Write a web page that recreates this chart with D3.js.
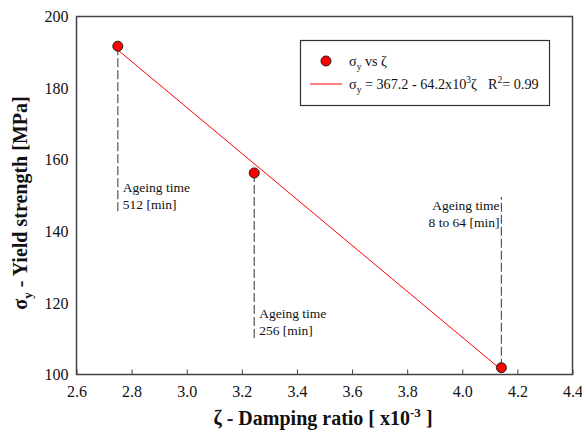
<!DOCTYPE html>
<html>
<head>
<meta charset="utf-8">
<script src="https://cdn.jsdelivr.net/npm/d3@7"></script>
<style>
  body { margin: 0; background: #fff; }
  svg text { font-family: "Liberation Serif", "Times New Roman", Times, serif; fill: #111; }
</style>
</head>
<body>
<div class="chart"></div>
<script>
    // Data
    var zeta = [2.75, 3.245, 4.142];
    var sigma = [191.7, 156.3, 101.9];
    var ageing = ['512 [min]', '256 [min]', '8 to 64 [min]'];
    var fitRange = [2.75, 4.142];
    var fitIntercept = 367.2;
    var fitSlope = -64.2;
    var xTicks = [2.6, 2.8, 3.0, 3.2, 3.4, 3.6, 3.8, 4.0, 4.2, 4.4];
    var yTicks = [100, 120, 140, 160, 180, 200];

    var w = 582, h = 433;
    var mLeft = 76.5, mRight = 572.5, mTop = 16.5, mBottom = 374.5;
    var serif = '"Liberation Serif", "Times New Roman", serif';

    var svg = d3.select('.chart')
        .append('svg')
            .attr('width', w)
            .attr('height', h);

    var x = d3.scaleLinear().domain([2.6, 4.4]).range([mLeft, mRight]);
    var y = d3.scaleLinear().domain([100, 200]).range([mBottom, mTop]);

    // Frame
    svg.append('rect')
        .attr('x', mLeft).attr('y', mTop)
        .attr('width', mRight - mLeft).attr('height', mBottom - mTop)
        .attr('fill', 'none').attr('stroke', '#444').attr('stroke-width', 1.5);

    // X axis (ticks inside)
    var xAxis = svg.append('g')
        .attr('transform', 'translate(0,' + mBottom + ')')
        .call(d3.axisBottom(x).tickValues(xTicks).tickSizeInner(-5).tickSizeOuter(0)
            .tickPadding(11).tickFormat(d3.format('.1f')))
        .attr('font-family', serif).attr('font-size', 16);
    xAxis.select('.domain').remove();
    xAxis.selectAll('line').attr('stroke', '#444');

    // Y axis
    var yAxis = svg.append('g')
        .attr('transform', 'translate(' + mLeft + ',0)')
        .call(d3.axisLeft(y).tickValues(yTicks).tickSize(0).tickPadding(8))
        .attr('font-family', serif).attr('font-size', 16);
    yAxis.select('.domain').remove();

    // Axis titles
    var xt = svg.append('text')
        .attr('x', 323).attr('y', 425)
        .attr('text-anchor', 'middle')
        .attr('font-size', 20).attr('font-weight', 'bold');
    xt.append('tspan').text('ζ - Damping ratio [ x10');
    xt.append('tspan').attr('font-size', 13).attr('dy', -8).text('-3');
    xt.append('tspan').attr('dy', 8).text(' ]');

    var yt = svg.append('text')
        .attr('transform', 'translate(27,203) rotate(-90)')
        .attr('text-anchor', 'middle')
        .attr('font-size', 20).attr('font-weight', 'bold');
    yt.append('tspan').text('σ');
    yt.append('tspan').attr('font-size', 13).attr('dy', 5).text('y');
    yt.append('tspan').attr('dy', -5).text(' - Yield strength [MPa]');

    // Dashed guide lines (pixel end of each guide, point end from data)
    var guideEnd = [212, 338, 197];
    svg.selectAll('line.guide')
        .data(zeta)
        .enter()
        .append('line')
            .attr('x1', function (d) { return x(d); })
            .attr('x2', function (d) { return x(d); })
            .attr('y1', function (d, i) { return y(sigma[i]); })
            .attr('y2', function (d, i) { return guideEnd[i]; })
            .attr('stroke', '#555')
            .attr('stroke-width', 1.2)
            .attr('stroke-dasharray', '9,3');

    // Annotation labels
    var labelPos = [
        { dx: 5, y: 192, anchor: 'start' },
        { dx: 5, y: 318, anchor: 'start' },
        { dx: -2, y: 210, anchor: 'end' }
    ];
    svg.selectAll('text.note')
        .data(zeta)
        .enter()
        .append('text')
            .attr('class', 'note')
            .attr('x', function (d, i) { return x(d) + labelPos[i].dx; })
            .attr('y', function (d, i) { return labelPos[i].y; })
            .attr('text-anchor', function (d, i) { return labelPos[i].anchor; })
            .attr('font-size', 13.5)
            .each(function (d, i) {
                var t = d3.select(this);
                t.append('tspan').text('Ageing time');
                t.append('tspan').attr('x', x(d) + labelPos[i].dx).attr('dy', 17).text(ageing[i]);
            });

    // Fit line
    svg.append('line')
        .attr('x1', x(fitRange[0])).attr('y1', y(fitIntercept + fitSlope * fitRange[0]))
        .attr('x2', x(fitRange[1])).attr('y2', y(fitIntercept + fitSlope * fitRange[1]))
        .attr('stroke', '#ff0000').attr('stroke-width', 1);

    // Points
    svg.selectAll('circle.pt')
        .data(zeta)
        .enter()
        .append('circle')
            .attr('cx', function (d) { return x(d); })
            .attr('cy', function (d, i) { return y(sigma[i]); })
            .attr('r', 5)
            .attr('fill', '#ff0000')
            .attr('stroke', '#222')
            .attr('stroke-width', 1);

    // Legend
    svg.append('rect')
        .attr('x', 300.5).attr('y', 40.5).attr('width', 249).attr('height', 65)
        .attr('fill', '#fff').attr('stroke', '#333').attr('stroke-width', 1.2);
    svg.append('circle')
        .attr('cx', 326).attr('cy', 61).attr('r', 5)
        .attr('fill', '#ff0000').attr('stroke', '#222');
    svg.append('line')
        .attr('x1', 310).attr('x2', 342).attr('y1', 84).attr('y2', 84)
        .attr('stroke', '#ff0000');

    var l1 = svg.append('text').attr('x', 349).attr('y', 66).attr('font-size', 14.2);
    l1.append('tspan').text('σ');
    l1.append('tspan').attr('font-size', 9.5).attr('dy', 4).text('y');
    l1.append('tspan').attr('dy', -4).text(' vs ζ');

    var l2 = svg.append('text').attr('x', 349).attr('y', 89).attr('font-size', 14.2);
    l2.append('tspan').text('σ');
    l2.append('tspan').attr('font-size', 9.5).attr('dy', 4).text('y');
    l2.append('tspan').attr('dy', -4).text(' = 367.2 - 64.2x10');
    l2.append('tspan').attr('font-size', 9.5).attr('dy', -6).text('3');
    l2.append('tspan').attr('dy', 6).text('ζ');
    l2.append('tspan').attr('dx', 11).text('R');
    l2.append('tspan').attr('font-size', 9.5).attr('dy', -6).text('2');
    l2.append('tspan').attr('dy', 6).text('= 0.99');
</script>
</body>
</html>
